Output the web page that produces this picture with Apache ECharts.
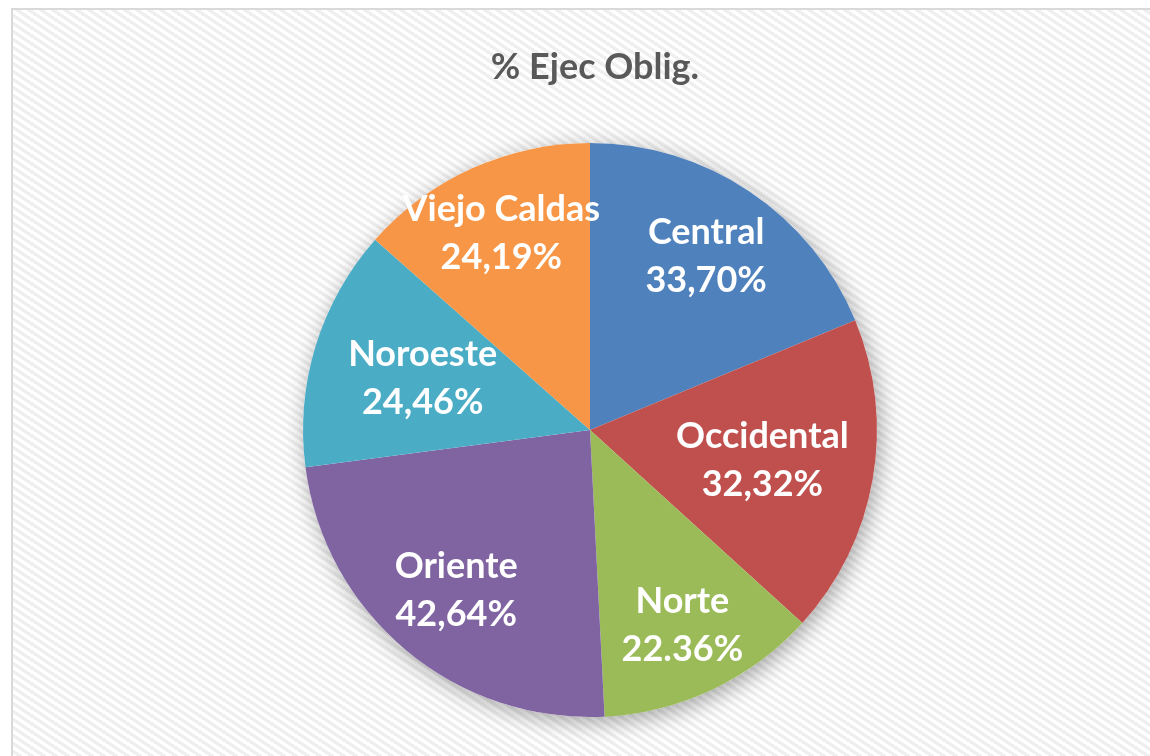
<!DOCTYPE html>
<html>
<head>
<meta charset="utf-8">
<script src="https://cdn.jsdelivr.net/npm/echarts@6/dist/echarts.min.js"></script>
<style>
html,body{margin:0;padding:0;background:#fff;}
#c{width:1150px;height:756px;}
</style>
</head>
<body>
<div id="c"></div>
<script>
var titleText = '% Ejec Oblig.';
var categories = ['Central', 'Occidental', 'Norte', 'Oriente', 'Noroeste', 'Viejo Caldas'];
var values = [33.70, 32.32, 22.36, 42.64, 24.46, 24.19];
var valueLabels = ['33,70%', '32,32%', '22.36%', '42,64%', '24,46%', '24,19%'];
var colors = ['#4f81bd', '#c0504d', '#9bbb59', '#8064a2', '#4bacc6', '#f79646'];
// which label ring each label sits on (0 = outer, 1 = inner, 2 = middle)
var labelRing = [2, 1, 0, 2, 1, 0];

// background pattern tile
var tile = document.createElement('canvas');
tile.width = 12; tile.height = 8;
var tctx = tile.getContext('2d');
tctx.fillStyle = '#ffffff';
tctx.fillRect(0, 0, 12, 8);
tctx.fillStyle = '#efefef';
for (var y = 0; y < 8; y++) {
  for (var x = 0; x < 12; x++) {
    var v = ((x - Math.floor(1.5 * y)) % 12 + 12) % 12;
    if (v < 6) tctx.fillRect(x, y, 1, 1);
  }
}

var chart = echarts.init(document.getElementById('c'));
var center = [590, 430];
var R = 287;
var labelFont = {
  color: '#ffffff', fontFamily: 'Lato', fontWeight: 'bold', fontSize: 36, lineHeight: 48
};

function mainData() {
  return categories.map(function (n, i) {
    return { name: n, value: values[i], itemStyle: { color: colors[i] } };
  });
}
function labelData(ring) {
  return categories.map(function (n, i) {
    return {
      name: n, value: values[i],
      label: { show: labelRing[i] === ring }
    };
  });
}
function labelSeries(ring, radius) {
  return {
    type: 'pie', center: center, radius: radius,
    startAngle: 90, clockwise: true, silent: true,
    avoidLabelOverlap: false, z: 5,
    itemStyle: { color: 'rgba(0,0,0,0)' },
    labelLine: { show: false },
    emphasis: { disabled: true },
    label: Object.assign({
      position: 'inside',
      formatter: function (p) { return p.name + '\n' + valueLabels[p.dataIndex]; }
    }, labelFont),
    data: labelData(ring)
  };
}

chart.setOption({
  animation: false,
  backgroundColor: '#ffffff',
  title: {
    text: titleText, left: 590, top: 44, textAlign: 'center',
    textStyle: { color: '#595959', fontFamily: 'Lato', fontWeight: 'bold', fontSize: 36 }
  },
  graphic: [{
    type: 'rect', z: -100, silent: true,
    shape: { x: 12, y: 9, width: 1160, height: 770 },
    style: { fill: { image: tile, repeat: 'repeat' }, stroke: '#d9d9d9', lineWidth: 2 }
  }],
  series: [
    {
      type: 'pie', center: center, radius: R, silent: true, z: 1,
      label: { show: false }, labelLine: { show: false },
      emphasis: { disabled: true },
      itemStyle: {
        color: '#ffffff', shadowBlur: 22, shadowColor: 'rgba(0,0,0,0.35)',
        shadowOffsetX: 3, shadowOffsetY: 5
      },
      data: [{ name: 'bg', value: 1 }]
    },
    {
      type: 'pie', center: center, radius: R, startAngle: 90, clockwise: true,
      silent: true, z: 2,
      label: { show: false }, labelLine: { show: false },
      emphasis: { disabled: true },
      itemStyle: { borderWidth: 0 },
      data: mainData()
    },
    labelSeries(0, [136, 290]),
    labelSeries(1, [95, 249]),
    labelSeries(2, [128, 284])
  ]
});
</script>
</body>
</html>
